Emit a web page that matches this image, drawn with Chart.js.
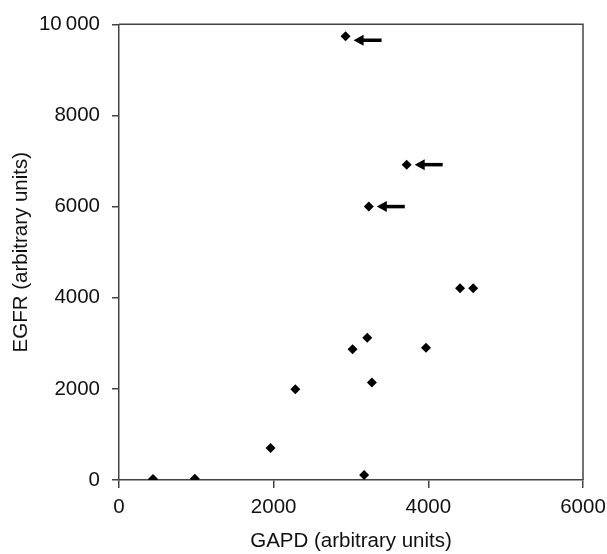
<!DOCTYPE html>
<html>
<head>
<meta charset="utf-8">
<script src="https://cdn.jsdelivr.net/npm/chart.js@4"></script>
<style>
  html, body { margin: 0; padding: 0; background: #fff; }
  #wrap { width: 607px; height: 554px; }
</style>
</head>
<body>
<div id="wrap"><canvas id="myChart" width="607" height="554"></canvas></div>
<script>
// data
var gapd = [440, 980, 1960, 2280, 3020, 3210, 3270, 3970, 4410, 4580, 3170, 2930, 3720, 3230];
var egfr = [20, 30, 700, 1990, 2870, 3120, 2140, 2900, 4210, 4210, 110, 9740, 6920, 6000];

// arrows pointing at the three high samples
var arrowX = [2930, 3720, 3230];
var arrowY = [9650, 6920, 6000];

var xTicks = [0, 2000, 4000, 6000];
var yTicks = [0, 2000, 4000, 6000, 8000, 10000];

var points = [];
for (var i = 0; i < gapd.length; i++) {
  points.push({ x: gapd[i], y: egfr[i] });
}

var axisColor = '#444';
var font = { family: 'Liberation Sans, Arial, sans-serif', size: 20.5 };

// frame round the plot + the arrows
var extras = {
  id: 'extras',
  afterDatasetsDraw: function (chart) {
    var c = chart.ctx;
    var a = chart.chartArea;
    c.save();
    c.strokeStyle = axisColor;
    c.lineWidth = 1.5;
    c.beginPath();
    c.moveTo(a.left, a.top);
    c.lineTo(a.right, a.top);
    c.lineTo(a.right, a.bottom);
    c.stroke();

    c.fillStyle = '#000';
    c.strokeStyle = '#000';
    for (var i = 0; i < arrowX.length; i++) {
      var px = chart.scales.x.getPixelForValue(arrowX[i]);
      var py = chart.scales.y.getPixelForValue(arrowY[i]);
      var tip = px + 8;
      // head
      c.beginPath();
      c.moveTo(tip, py);
      c.lineTo(tip + 10, py - 5.5);
      c.lineTo(tip + 10, py + 5.5);
      c.closePath();
      c.fill();
      // shaft
      c.lineWidth = 3.5;
      c.beginPath();
      c.moveTo(tip + 9, py);
      c.lineTo(tip + 28, py);
      c.stroke();
    }
    c.restore();
  }
};

new Chart(document.getElementById('myChart'), {
  type: 'scatter',
  data: {
    datasets: [{
      data: points,
      pointStyle: 'rectRot',
      pointRadius: 5,
      pointHoverRadius: 5,
      backgroundColor: '#000',
      borderColor: '#000',
      borderWidth: 0
    }]
  },
  options: {
    responsive: false,
    animation: false,
    layout: { padding: { top: 23, right: 24, left: 0, bottom: 0 } },
    plugins: { legend: { display: false }, tooltip: { enabled: false } },
    scales: {
      x: {
        type: 'linear',
        min: 0,
        max: 6000,
        afterBuildTicks: function (scale) {
          scale.ticks = xTicks.map(function (v) { return { value: v }; });
        },
        afterFit: function (scale) {
          scale.height = 74;
          scale.paddingLeft = 0;
          scale.paddingRight = 0;
        },
        grid: { drawOnChartArea: false, drawTicks: true, tickLength: 8, color: axisColor, lineWidth: 1.5 },
        border: { color: axisColor, width: 1.5 },
        ticks: {
          color: '#111',
          font: font,
          padding: 7,
          maxRotation: 0,
          callback: function (v) { return String(v); }
        },
        title: {
          display: true,
          text: 'GAPD (arbitrary units)',
          color: '#111',
          font: font,
          padding: { top: 0, bottom: 0 }
        }
      },
      y: {
        type: 'linear',
        min: 0,
        max: 10000,
        afterBuildTicks: function (scale) {
          scale.ticks = yTicks.map(function (v) { return { value: v }; });
        },
        afterFit: function (scale) { scale.width = 119; },
        grid: { drawOnChartArea: false, drawTicks: true, tickLength: 7, color: axisColor, lineWidth: 1.5 },
        border: { color: axisColor, width: 1.5 },
        ticks: {
          color: '#111',
          font: font,
          padding: 12,
          callback: function (v) { return v === 10000 ? '10\u2009000' : String(v); }
        },
        title: {
          display: true,
          text: 'EGFR (arbitrary units)',
          color: '#111',
          font: font,
          padding: { top: 9, bottom: 0 }
        }
      }
    }
  },
  plugins: [extras]
});
</script>
</body>
</html>
